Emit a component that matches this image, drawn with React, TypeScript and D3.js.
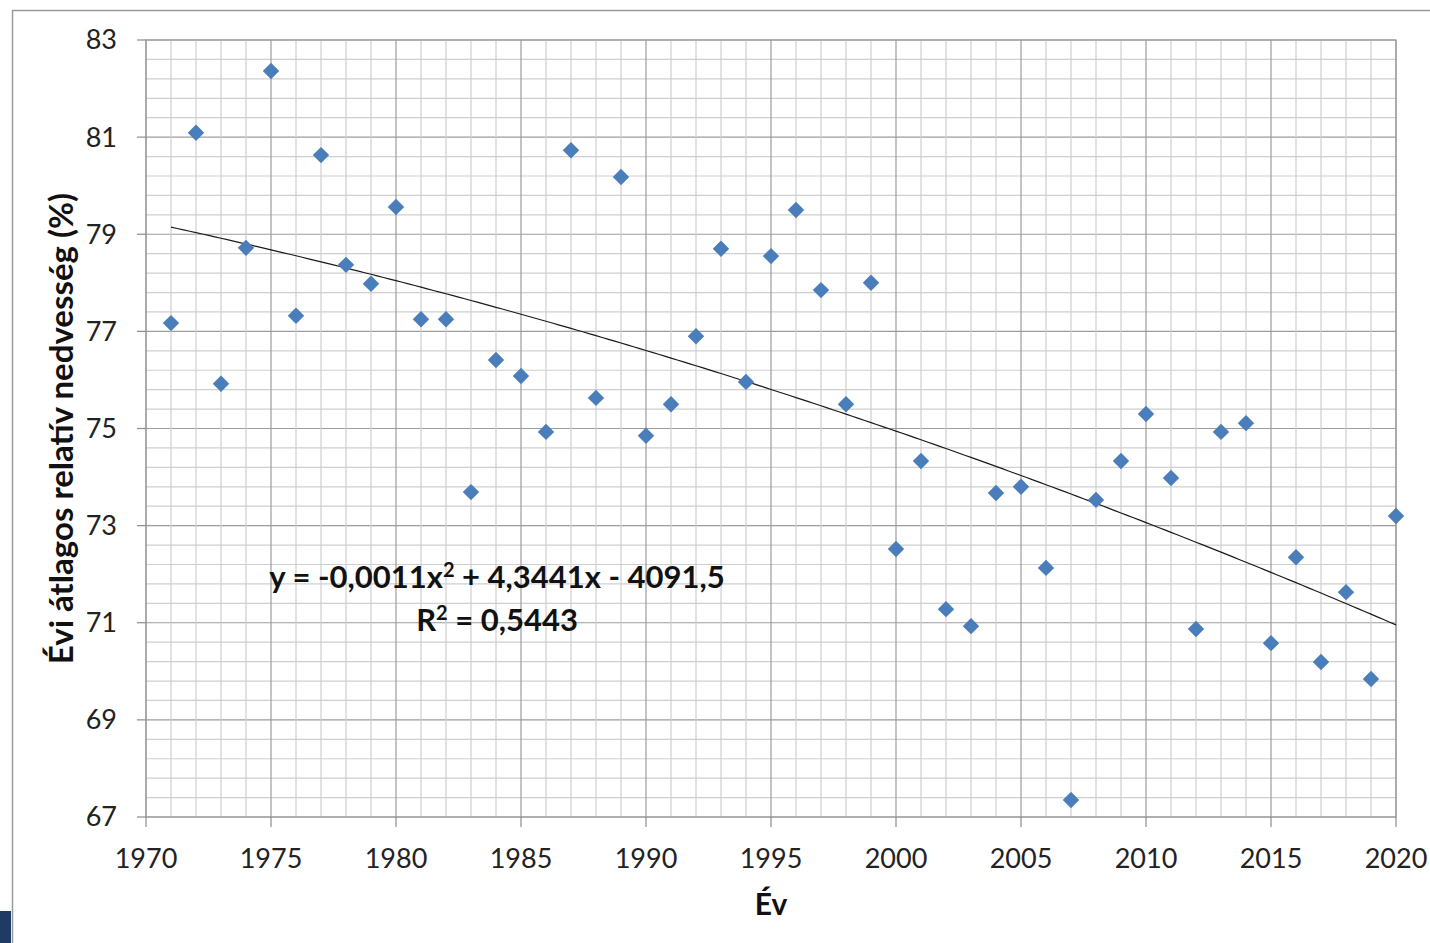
import React from 'react';
import * as d3 from 'd3';

// yearly mean relative humidity (%)
const years = d3.range(1971, 2021);
const humidity = [
  77.17, 81.09, 75.92, 78.72, 82.36, 77.32, 80.63, 78.37, 77.98, 79.56,
  77.25, 77.25, 73.69, 76.41, 76.08, 74.93, 80.73, 75.63, 80.18, 74.85,
  75.5, 76.9, 78.7, 75.96, 78.55, 79.5, 77.85, 75.5, 78.0, 72.52,
  74.33, 71.28, 70.93, 73.67, 73.8, 72.13, 67.35, 73.53, 74.33, 75.3,
  73.98, 70.87, 74.93, 75.11, 70.58, 72.35, 70.19, 71.63, 69.84, 73.2,
];
const xTicks = [1970, 1975, 1980, 1985, 1990, 1995, 2000, 2005, 2010, 2015, 2020];
const yTicks = [67, 69, 71, 73, 75, 77, 79, 81, 83];
const eqParts = ['y = -0,0011x', '2', ' + 4,3441x - 4091,5'];
const r2Parts = ['R', '2', ' = 0,5443'];

// quadratic least squares, x centred to keep numbers small
function quadFit(xs: number[], ys: number[]) {
  const mx = d3.mean(xs)!;
  const s = [0, 0, 0, 0, 0];
  const t = [0, 0, 0];
  xs.forEach((x0, i) => {
    const x = x0 - mx;
    for (let k = 0; k < 5; k++) s[k] += Math.pow(x, k);
    for (let k = 0; k < 3; k++) t[k] += ys[i] * Math.pow(x, k);
  });
  const A = [
    [s[0], s[1], s[2], t[0]],
    [s[1], s[2], s[3], t[1]],
    [s[2], s[3], s[4], t[2]],
  ];
  for (let c = 0; c < 3; c++) {
    for (let r = c + 1; r < 3; r++) {
      const f = A[r][c] / A[c][c];
      for (let k = c; k < 4; k++) A[r][k] -= f * A[c][k];
    }
  }
  const b = [0, 0, 0];
  for (let r = 2; r >= 0; r--) {
    let v = A[r][3];
    for (let k = r + 1; k < 3; k++) v -= A[r][k] * b[k];
    b[r] = v / A[r][r];
  }
  return (x0: number) => {
    const x = x0 - mx;
    return b[0] + b[1] * x + b[2] * x * x;
  };
}

const W = 1430;
const H = 943;
const m = { left: 146, right: 1396, top: 40, bottom: 817 };
const font = 'Lato, "Open Sans", sans-serif';

function SupText({ parts, x, y }: { parts: string[]; x: number; y: number }) {
  return (
    <text x={x} y={y} textAnchor="middle" fontFamily={font} fontWeight="bold"
      fontSize={31} fill="#111">
      <tspan>{parts[0]}</tspan>
      <tspan dy={-11} fontSize={20}>{parts[1]}</tspan>
      <tspan dy={11}>{parts[2]}</tspan>
    </text>
  );
}

export default function App() {
  const x = d3.scaleLinear().domain([1970, 2020]).range([m.left, m.right]);
  const y = d3.scaleLinear().domain([67, 83]).range([m.bottom, m.top]);

  const fit = quadFit(years, humidity);
  const trend = d3.line<number>()
    .x(d => x(d))
    .y(d => y(fit(d)))(d3.range(1971, 2020.01, 0.25));

  const vMinor = d3.range(1970, 2021);
  const hMinor = d3.range(0, 41).map(i => 67 + i * 0.4);
  const diamond = d3.symbol().type(d3.symbolSquare).size(135)();

  return (
    <div style={{ position: 'absolute', left: 0, top: 0 }}>
      <svg width={W} height={H} style={{ display: 'block', background: '#fff' }}>
        {/* outer frame */}
        <line x1={12} x2={W} y1={10.5} y2={10.5} stroke="#9a9a9a" strokeWidth={1.5} />
        <line x1={12.5} x2={12.5} y1={10} y2={H} stroke="#9a9a9a" strokeWidth={1.5} />
        <rect x={0} y={911} width={11} height={32} fill="#1f3b63" />

        {/* grid */}
        {hMinor.map((v, i) => (
          <line key={'h' + i} x1={m.left} x2={m.right} y1={y(v)} y2={y(v)}
            stroke={i % 5 === 0 ? '#9c9c9c' : '#cfcfcf'} strokeWidth={1.2} />
        ))}
        {vMinor.map(v => (
          <line key={'v' + v} x1={x(v)} x2={x(v)} y1={m.top} y2={m.bottom}
            stroke={v % 5 === 0 ? '#9c9c9c' : '#cfcfcf'} strokeWidth={1.2} />
        ))}
        <rect x={m.left} y={m.top} width={m.right - m.left} height={m.bottom - m.top}
          fill="none" stroke="#9c9c9c" strokeWidth={1.2} />

        {/* axes */}
        {yTicks.map(t => (
          <g key={'yt' + t}>
            <line x1={m.left - 9} x2={m.left} y1={y(t)} y2={y(t)} stroke="#8c8c8c" strokeWidth={1.2} />
            <text x={117} y={y(t)} dy="0.35em" textAnchor="end" fontFamily={font}
              fontSize={27} fill="#222">{t}</text>
          </g>
        ))}
        {xTicks.map(t => (
          <g key={'xt' + t}>
            <line x1={x(t)} x2={x(t)} y1={m.bottom} y2={m.bottom + 10} stroke="#8c8c8c" strokeWidth={1.2} />
            <text x={x(t)} y={868} textAnchor="middle" fontFamily={font}
              fontSize={27} fill="#222">{t}</text>
          </g>
        ))}

        {/* trend line */}
        <path d={trend ?? ''} fill="none" stroke="#1a1a1a" strokeWidth={1.2} />

        {/* points */}
        {years.map((yr, i) => (
          <path key={yr} d={diamond ?? ''} fill="#4a7ebb"
            transform={`translate(${x(yr)},${y(humidity[i])}) rotate(45)`} />
        ))}

        {/* trend equation */}
        <SupText parts={eqParts} x={497} y={588} />
        <SupText parts={r2Parts} x={497} y={631} />

        {/* axis titles */}
        <text x={(m.left + m.right) / 2} y={915} textAnchor="middle" fontFamily={font}
          fontWeight="bold" fontSize={30} fill="#111">Év</text>
        <text transform={`translate(73,${(m.top + m.bottom) / 2}) rotate(-90)`} textAnchor="middle"
          fontFamily={font} fontWeight="bold" fontSize={33} fill="#111">
          Évi átlagos relatív nedvesség (%)
        </text>
      </svg>
    </div>
  );
}
